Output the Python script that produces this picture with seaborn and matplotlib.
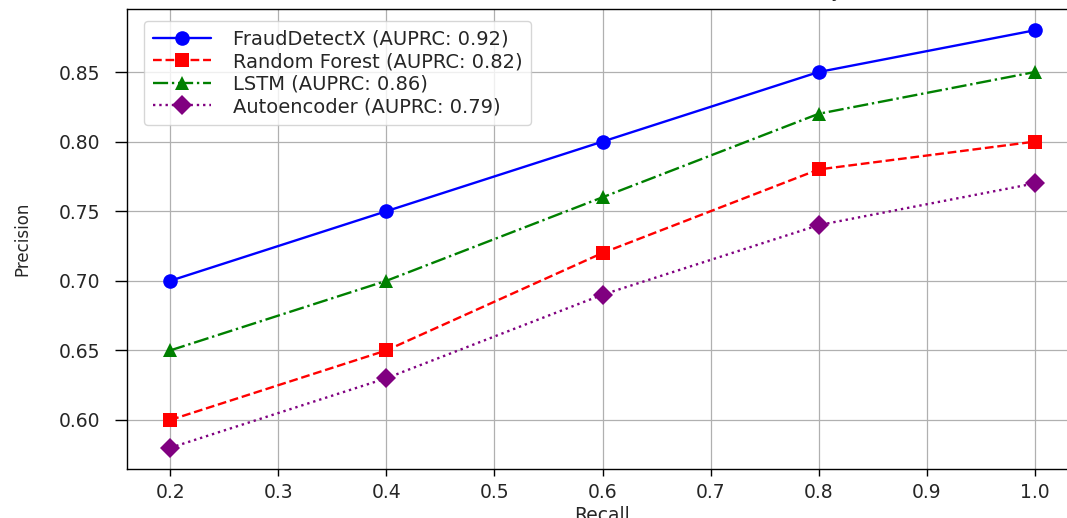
import matplotlib
matplotlib.use("Agg")
import matplotlib.pyplot as plt
import seaborn as sns
import pandas as pd

recall = [0.2, 0.4, 0.6, 0.8, 1.0]
fraud_detect_x = [0.70, 0.75, 0.80, 0.85, 0.88]
random_forest = [0.60, 0.65, 0.72, 0.78, 0.80]
lstm = [0.65, 0.70, 0.76, 0.82, 0.85]
autoencoder = [0.58, 0.63, 0.69, 0.74, 0.77]

labels = ["FraudDetectX (AUPRC: 0.92)", "Random Forest (AUPRC: 0.82)",
          "LSTM (AUPRC: 0.86)", "Autoencoder (AUPRC: 0.79)"]
series = [fraud_detect_x, random_forest, lstm, autoencoder]
colors = ["blue", "red", "green", "purple"]
markers = ["o", "s", "^", "D"]
styles = ["-", "--", "-.", ":"]

sns.set_style("ticks")
plt.rcParams["font.family"] = ["DejaVu Sans"]

fig = plt.figure(figsize=(10.67, 5.18), dpi=100)
ax = fig.add_axes([127 / 1067, (518 - 468.7) / 518, (1078 - 127) / 1067, (468.7 - 9.4) / 518])

for vals, lab, c, m, ls in zip(series, labels, colors, markers, styles):
    df = pd.DataFrame({"Recall": recall, "Precision": vals})
    sns.lineplot(data=df, x="Recall", y="Precision", ax=ax, color=c, marker=m,
                 linestyle=ls, linewidth=1.7, markersize=10.5, markeredgewidth=0,
                 label=lab)

ax.grid(True, color="#b0b0b0", linewidth=0.9)
ax.set_axisbelow(True)
ax.set_xticks([0.2, 0.3, 0.4, 0.5, 0.6, 0.7, 0.8, 0.9, 1.0])
ax.set_yticks([0.60, 0.65, 0.70, 0.75, 0.80, 0.85])
ax.set_xticklabels(["0.2", "0.3", "0.4", "0.5", "0.6", "0.7", "0.8", "0.9", "1.0"])
ax.set_yticklabels(["0.60", "0.65", "0.70", "0.75", "0.80", "0.85"])
ax.tick_params(axis="both", labelsize=13.5, width=1, color="black")
ax.tick_params(axis="x", length=5, pad=5)
ax.tick_params(axis="y", length=9, pad=10)
for s in ax.spines.values():
    s.set_color("black")
    s.set_linewidth(1.0)
ax.set_xlabel("Recall", fontsize=13.5, labelpad=3)
ax.set_ylabel("Precision", fontsize=12, labelpad=20,
              family=["Liberation Sans Narrow", "DejaVu Sans"])
ax.set_title("Precision-Recall Curve: Fraud Detection Accuracy",
             fontsize=14, pad=9)

leg = ax.legend(loc="upper left", fontsize=14, handlelength=3.0, handletextpad=1.1,
                labelspacing=0.18, borderpad=0.45, framealpha=0.8,
                bbox_to_anchor=(0.008, 0.996))

fig.savefig("out.png", dpi=100)
